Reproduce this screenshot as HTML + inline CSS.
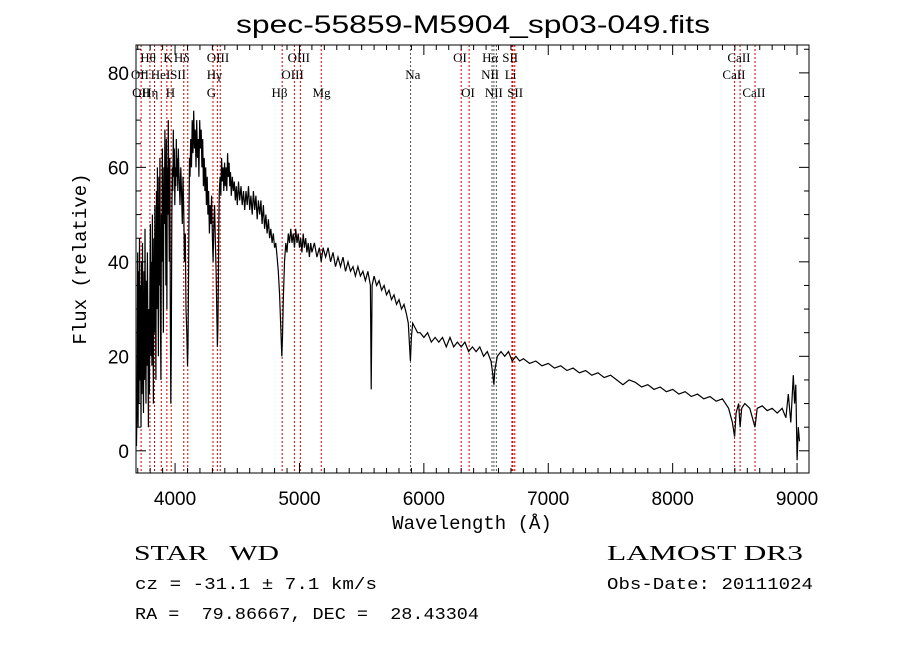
<!DOCTYPE html>
<html><head><meta charset="utf-8"><style>
html,body{margin:0;padding:0;background:#fff;width:900px;height:649px;overflow:hidden}
svg{display:block}
text{fill:#000}
.sans{font-family:"Liberation Sans",sans-serif}
.mono{font-family:"Liberation Mono",monospace}
.serif{font-family:"Liberation Serif",serif}
.lbl{font-family:"Liberation Serif",serif;font-size:13px}
</style></head><body>
<svg id="chart" width="900" height="649" viewBox="0 0 900 649" xmlns="http://www.w3.org/2000/svg">
<text class="sans" x="473" y="33" text-anchor="middle" font-size="25" textLength="474" lengthAdjust="spacingAndGlyphs">spec-55859-M5904_sp03-049.fits</text>
<g id="lines"></g>
<g id="labels"></g>
<polyline id="spec" fill="none" stroke="#000" stroke-width="1.2"/>
<rect x="136" y="45" width="673" height="428" fill="none" stroke="#000" stroke-width="1"/>
<g id="ticks"></g>
<text class="mono" x="472" y="529" text-anchor="middle" font-size="19">Wavelength (Å)</text>
<text class="mono" transform="translate(86,259) rotate(-90)" text-anchor="middle" font-size="19">Flux (relative)</text>
<text class="serif" x="134" y="560" font-size="21" xml:space="preserve" textLength="145" lengthAdjust="spacingAndGlyphs">STAR   WD</text>
<text class="mono" x="135" y="589" font-size="17" xml:space="preserve" textLength="242" lengthAdjust="spacingAndGlyphs">cz = -31.1 ± 7.1 km/s</text>
<text class="mono" x="135" y="619" font-size="17" xml:space="preserve" textLength="344" lengthAdjust="spacingAndGlyphs">RA =  79.86667, DEC =  28.43304</text>
<text class="serif" x="607" y="560" font-size="21" textLength="196" lengthAdjust="spacingAndGlyphs">LAMOST DR3</text>
<text class="mono" x="607" y="589" font-size="17" textLength="206" lengthAdjust="spacingAndGlyphs">Obs-Date: 20111024</text>
</svg>
<script>
const waves=[3690,3695,3700,3703,3707,3710,3714,3718,3722,3726,3730,3734,3738,3742,3746,3750,3754,3758,3762,3766,3770,3774,3778,3782,3786,3790,3794,3798,3802,3806,3810,3814,3818,3822,3826,3830,3834,3838,3842,3846,3850,3854,3858,3862,3866,3870,3874,3878,3882,3886,3890,3894,3898,3902,3906,3910,3914,3918,3922,3926,3930,3934,3938,3942,3946,3950,3954,3958,3962,3966,3970,3974,3978,3982,3986,3990,3994,3998,4002,4006,4010,4014,4018,4022,4026,4030,4034,4040,4046,4052,4058,4064,4070,4076,4082,4088,4094,4100,4104,4108,4112,4116,4120,4126,4132,4138,4144,4150,4156,4162,4168,4174,4180,4186,4192,4198,4204,4210,4216,4222,4228,4234,4240,4246,4252,4258,4264,4270,4276,4282,4288,4294,4300,4306,4312,4318,4324,4330,4336,4340,4344,4348,4352,4356,4362,4368,4374,4380,4386,4392,4398,4404,4410,4416,4422,4428,4434,4440,4446,4452,4460,4468,4476,4484,4492,4500,4510,4520,4530,4540,4550,4560,4570,4580,4590,4600,4610,4620,4630,4640,4650,4660,4670,4680,4690,4700,4710,4720,4730,4740,4750,4760,4770,4780,4790,4800,4810,4820,4830,4840,4850,4858,4864,4870,4880,4890,4900,4910,4920,4930,4940,4950,4960,4970,4980,4990,5000,5010,5020,5030,5040,5050,5060,5070,5080,5090,5100,5120,5140,5160,5175,5190,5210,5230,5250,5270,5290,5310,5330,5350,5370,5390,5410,5430,5450,5470,5490,5510,5530,5550,5570,5577,5584,5600,5620,5640,5660,5680,5700,5720,5740,5760,5780,5800,5820,5840,5860,5875,5885,5892,5900,5910,5930,5950,5970,6000,6030,6060,6090,6120,6150,6180,6210,6240,6270,6300,6330,6360,6390,6420,6450,6480,6510,6540,6555,6563,6570,6590,6620,6650,6680,6710,6740,6770,6800,6850,6900,6950,7000,7050,7100,7150,7200,7250,7300,7350,7400,7450,7500,7550,7600,7650,7700,7750,7800,7850,7900,7950,8000,8050,8100,8150,8200,8250,8300,8350,8400,8450,8480,8498,8510,8530,8542,8555,8580,8620,8662,8680,8720,8760,8800,8840,8880,8910,8930,8950,8970,8980,8990,9000,9010,9020];
const flux=[1,12,42,5,38,10,45,15,35,5,40,12,44,20,8,38,15,47,22,10,36,18,42,25,5,30,12,35,48,20,40,18,50,30,10,45,25,52,35,15,55,30,60,40,20,58,35,62,30,15,50,40,64,45,25,60,48,68,55,35,66,30,60,50,70,55,40,62,30,10,22,48,60,55,68,58,64,52,60,56,66,58,62,55,64,60,57,52,60,55,48,58,50,40,46,30,25,18,22,35,50,62,58,66,60,70,63,72,64,68,60,70,62,66,58,70,64,68,60,66,56,62,55,60,52,58,50,55,46,52,48,54,45,40,48,52,44,38,28,22,26,36,48,55,58,54,62,57,60,55,61,56,60,55,63,58,61,56,59,54,58,55,57,53,56,52,57,53,56,52,55,51,55,52,56,51,54,50,55,51,54,49,53,50,53,48,52,47,50,46,49,45,47,44,46,43,44,41,38,33,26,20,24,32,40,44,42,46,44,47,44,46,43,47,44,46,43,45,42,46,43,45,42,44,41,44,42,44,41,43,40,43,41,43,40,42,39,41,39,41,38,40,38,39,37,39,37,38,36,38,35,13,35,37,35,36,34,35,33,34,32,33,31,32,30,31,29,27,22,19,24,27,26,25,25,24,25,23,24,23,24,22,24,22,23,22,23,21,22,21,22,20,21,19,16,14,17,20,21,20,21,19,20,19,19.5,18.5,19,18,18.5,17.5,18,17,17.5,16.5,17,16,16.5,15.5,16,15,14,15,14.5,13.5,14,13,13.5,12.5,13,12,12.5,11.5,12,11,11.5,10.5,11,9,6,3,8,10,5,9,10,9,5,9,9.5,8.5,9,8,9,7,12,6,16,10,14,-2,5,2];
const lineWaves=[3727,3798,3835,3889,3934,3969,4070,4102,4305,4340,4363,4861,4959,5007,5175,5893,6300,6364,6548,6563,6583,6708,6716,6731,8498,8542,8662];
const lineGray=[0,0,0,0,0,0,0,0,0,0,0,0,0,0,0,1,0,0,1,1,1,0,0,0,0,0,0];
const labelText=["Hθ","K","Hδ","OIII","OIII","OI","Hα","SII","CaII","OII","HeI","SII","Hγ","OIII","Na","NII","Li","CaII","OII","Hη","H","G","Hβ","Mg","OI","NII","SII","CaII"];
const labelWave=[3720,3905,3990,4255,4905,6235,6468,6630,8440,3645,3805,3960,4255,4855,5850,6460,6650,8400,3655,3735,3925,4255,4775,5105,6300,6490,6670,8560];
const labelRow=[0,0,0,0,0,0,0,0,0,1,1,1,1,1,1,1,1,1,2,2,2,2,2,2,2,2,2,2];
const xTickLabels=[4000,5000,6000,7000,8000,9000];
const yTickLabels=[0,20,40,60,80];
const X0=136,X1=809,Y0=45,Y1=473,WMIN=3686,WMAX=9096,FMIN=-4.7,FMAX=85.9;
const xs=w=>X0+(w-WMIN)/(WMAX-WMIN)*(X1-X0);
const ys=f=>Y1-(f-FMIN)/(FMAX-FMIN)*(Y1-Y0);
const NS='http://www.w3.org/2000/svg';
function mk(tag,parent,attrs){const e=document.createElementNS(NS,tag);for(const k in attrs)e.setAttribute(k,attrs[k]);parent.appendChild(e);return e;}
let pts=[];for(let i=0;i<waves.length;i++){if(waves[i]<WMIN||waves[i]>WMAX)continue;pts.push(xs(waves[i]).toFixed(1)+','+Math.max(Y0,Math.min(Y1,ys(flux[i]))).toFixed(1));}
document.getElementById('spec').setAttribute('points',pts.join(' '));
const gl=document.getElementById('lines');
lineWaves.forEach((w,i)=>{const x=xs(w);const l=mk('line',gl,{x1:x,x2:x,y1:Y0,y2:Y1,stroke:lineGray[i]?'#555':'#c00','stroke-width':1,'stroke-dasharray':'2,2'});

});
const glab=document.getElementById('labels');const rowY=[62,79,97];
labelText.forEach((t,i)=>{const e=mk('text',glab,{x:xs(labelWave[i]),y:rowY[labelRow[i]],class:'lbl'});e.textContent=t;

});
const gt=document.getElementById('ticks');
for(let w=3700;w<=9000;w+=100){const x=xs(w);const L=(w%1000===0)?10:5;
mk('line',gt,{x1:x,x2:x,y1:Y1,y2:Y1-L,stroke:'#000'});mk('line',gt,{x1:x,x2:x,y1:Y0,y2:Y0+L,stroke:'#000'});}
xTickLabels.forEach(v=>{const e=mk('text',gt,{x:xs(v),y:505,'text-anchor':'middle','font-size':19,class:'sans'});e.textContent=v;

});
for(let f=0;f<=85;f+=5){const y=ys(f);const L=(f%20===0)?10:5;
mk('line',gt,{x1:X0,x2:X0+L,y1:y,y2:y,stroke:'#000'});mk('line',gt,{x1:X1,x2:X1-L,y1:y,y2:y,stroke:'#000'});}
yTickLabels.forEach(v=>{const e=mk('text',gt,{x:129,y:ys(v)+7,'text-anchor':'end','font-size':19,class:'sans'});e.textContent=v;

});
</script>
</body></html>
